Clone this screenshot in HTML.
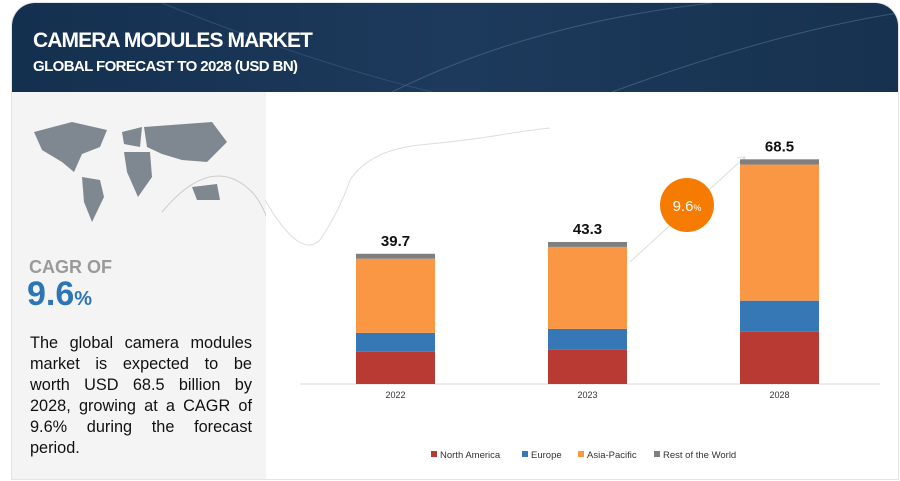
<!DOCTYPE html>
<html><head><meta charset="utf-8"><style>
body{margin:0;width:900px;height:481px;background:#fff;font-family:"Liberation Sans",sans-serif;position:relative;overflow:hidden}
.card{position:absolute;left:11px;top:2px;width:886px;height:476px;border:1px solid #e4e4e4;border-radius:24px 24px 0 0;overflow:hidden;background:#fff}
.hdr{position:absolute;left:0;top:0;width:886px;height:89px;background:linear-gradient(90deg,#14304f,#1d3a5c 50%,#16324f)}
.t1{position:absolute;left:21px;top:26px;color:#fff;font-size:21px;font-weight:bold;letter-spacing:-0.9px}
.t2{position:absolute;left:21px;top:55px;color:#fff;font-size:15px;font-weight:bold;letter-spacing:-0.6px}
.left{position:absolute;left:0;top:89px;width:254px;height:387px;background:#f4f4f4}
.cagr{position:absolute;left:17px;top:254px;color:#9a9a9a;font-size:18px;font-weight:bold}
.big{position:absolute;left:15px;top:272px;color:#2e75b6;font-size:34px;font-weight:bold}
.big span{font-size:20px}
.desc{position:absolute;left:18px;top:330px;width:222px;font-size:16.3px;line-height:21px;color:#111}
.desc div{text-align:justify;text-align-last:justify;white-space:nowrap}
.desc div.last{text-align-last:left}
</style></head><body>
<div class="card">
<div class="hdr">
<svg width="886" height="89" style="position:absolute;left:0;top:0"><path d="M380 89 Q520 20 700 0" stroke="#4c6f93" fill="none" opacity=".6"/><path d="M600 89 Q760 30 886 10" stroke="#5d7fa0" fill="none" opacity=".5"/><path d="M150 0 Q300 60 420 89" stroke="#3d5f80" fill="none" opacity=".6"/></svg>
<div class="t1">CAMERA MODULES MARKET</div>
<div class="t2">GLOBAL FORECAST TO 2028 (USD BN)</div>
</div>
<div class="left">
<svg width="254" height="150" style="position:absolute;top:0;left:0">
<g fill="#7f8790"><path d="M22 40 L60 30 L95 38 L88 55 L70 62 L62 80 L50 70 L30 58Z"/><path d="M70 85 L88 88 L92 105 L80 130 L72 110Z"/><path d="M110 40 L130 35 L128 55 L112 52Z"/><path d="M112 60 L138 60 L140 85 L126 105 L115 80Z"/><path d="M132 35 L200 30 L215 50 L195 70 L170 68 L150 62 L135 55Z"/><path d="M180 95 L205 92 L208 108 L185 108Z"/></g>
<path d="M150 120 Q200 60 240 100 Q258 120 262 160" stroke="#ccc" fill="none"/></svg>
</div>
<div class="cagr">CAGR OF</div>
<div class="big">9.6<span>%</span></div>
<div class="desc"><div>The global camera modules</div><div>market is expected to be</div><div>worth USD 68.5 billion by</div><div>2028, growing at a CAGR of</div><div>9.6% during the forecast</div><div class="last">period.</div></div>
</div>
<svg id="chart" width="900" height="481" style="position:absolute;left:0;top:0"></svg>
<script>
const years=["2022","2023","2028"];
const northAmerica=[9.8,10.4,15.9];
const europe=[5.8,6.4,9.5];
const asiaPacific=[22.6,25.0,41.5];
const restOfWorld=[1.5,1.5,1.6];
const totals=["39.7","43.3","68.5"];
const seriesNames=["North America","Europe","Asia-Pacific","Rest of the World"];
const colors=["#b83a32","#3677b6","#f99745","#7f7f7f"];
const svg=document.getElementById('chart');const NS="http://www.w3.org/2000/svg";
const base=384,scale=3.28,bw=79,xs=[395.5,587.5,779.5];
const y=v=>base-v*scale;
function mk(t,a){const e=document.createElementNS(NS,t);for(const k in a)e.setAttribute(k,a[k]);svg.appendChild(e);return e;}
const curve=mk('path',{d:'M265 200 Q300 260 320 240 Q340 210 350 180 Q370 150 420 145 Q470 140 500 135 Q530 130 550 128',stroke:'#ddd',fill:'none'});


const ax=mk('line',{x1:300,x2:880,y1:base,y2:base,stroke:'#d9d9d9'});


const arrow=mk('path',{d:'M630 262 L745 157 M737 158 L745 157 L744 165',stroke:'#ddd',fill:'none'});


const series=[northAmerica,europe,asiaPacific,restOfWorld];
years.forEach((yr,i)=>{let acc=0;
series.forEach((s,j)=>{const r=mk('rect',{x:xs[i]-bw/2,y:y(acc+s[i]),width:bw,height:s[i]*scale,fill:colors[j]});

acc+=s[i];});
const t=mk('text',{x:xs[i],y:y(acc)-8,'text-anchor':'middle','font-size':15,'font-weight':'bold',fill:'#111'});t.textContent=totals[i];


const l=mk('text',{x:xs[i],y:398,'text-anchor':'middle','font-size':9,fill:'#333'});l.textContent=yr;

});
const c=mk('circle',{cx:687,cy:205,r:27,fill:'#f57c00'});


const ct=mk('text',{x:687,y:211,'text-anchor':'middle','font-size':15,fill:'#fff'});ct.innerHTML='9.6<tspan font-size="9">%</tspan>';


const lx=[431,522,578,654];
seriesNames.forEach((n,j)=>{const r=mk('rect',{x:lx[j],y:451,width:6,height:6,fill:colors[j]});


const t=mk('text',{x:lx[j]+9,y:458,'font-size':9.5,fill:'#333'});t.textContent=n;

});
</script>
</body></html>
